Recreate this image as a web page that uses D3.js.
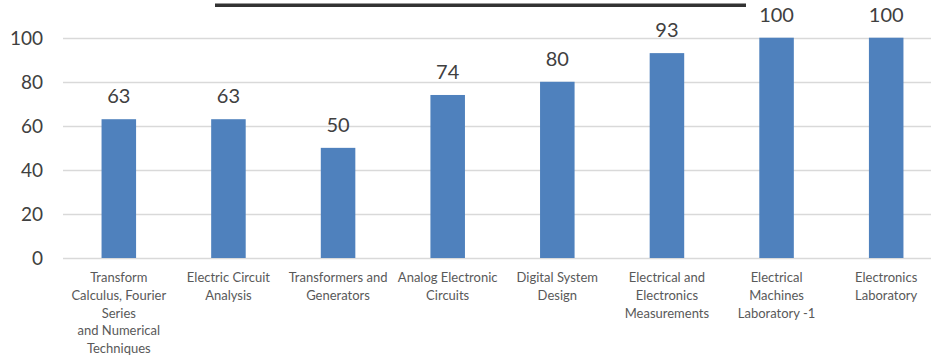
<!DOCTYPE html>
<html>
<head>
<meta charset="utf-8">
<script src="https://cdn.jsdelivr.net/npm/d3@7"></script>
<style>
  html, body { margin: 0; padding: 0; background: #fff; overflow: hidden; }
  svg { display: block; }
</style>
</head>
<body>
<svg id="chart" width="931" height="355"></svg>
<script>
const categories = [
  ["Transform", "Calculus, Fourier", "Series", "and Numerical", "Techniques"],
  ["Electric Circuit", "Analysis"],
  ["Transformers and", "Generators"],
  ["Analog Electronic", "Circuits"],
  ["Digital System", "Design"],
  ["Electrical and", "Electronics", "Measurements"],
  ["Electrical", "Machines", "Laboratory -1"],
  ["Electronics", "Laboratory"]
];
const values = [63, 63, 50, 74, 80, 93, 100, 100];
const yTicks = [0, 20, 40, 60, 80, 100];

(function () {
const svg = d3.select("#chart");
const W = 931;
const plotLeft = 64, plotRight = 941, plotTop = 37.7, plotBottom = 258;

const x = d3.scaleBand()
  .domain(d3.range(values.length))
  .range([plotLeft, plotRight])
  .paddingInner(0.685)
  .paddingOuter(0.3425);
const y = d3.scaleLinear().domain([0, 100]).range([plotBottom, plotTop]);

// top title underline (title itself clipped above the frame)
svg.append("line")
  .attr("x1", 215).attr("x2", 746)
  .attr("y1", 5.3).attr("y2", 5.3)
  .attr("stroke", "#333").attr("stroke-width", 3.6);

// gridlines
svg.append("g").selectAll("line").data(yTicks).join("line")
  .attr("x1", 63).attr("x2", W)
  .attr("y1", d => Math.round(y(d)) + 0.5)
  .attr("y2", d => Math.round(y(d)) + 0.5)
  .attr("stroke", "#d9d9d9").attr("stroke-width", 1.6);

// y axis labels
const yAxis = d3.axisLeft(y).tickValues(yTicks).tickSize(0).tickPadding(0);
const yg = svg.append("g").attr("transform", "translate(43,0)").call(yAxis);
yg.select(".domain").remove();
yg.selectAll("text")
  .attr("font-family", "Lato, sans-serif")
  .attr("font-size", "19px")
  .attr("fill", "#404040")
  .attr("dy", "0.36em");

// bars
svg.append("g").selectAll("rect").data(values).join("rect")
  .attr("x", (d, i) => x(i))
  .attr("width", x.bandwidth())
  .attr("y", d => y(d))
  .attr("height", d => y(0) - y(d))
  .attr("fill", "#4f81bd");

// value labels
svg.append("g").selectAll("text").data(values).join("text")
  .attr("x", (d, i) => x(i) + x.bandwidth() / 2)
  .attr("y", d => y(d) - 16)
  .attr("text-anchor", "middle")
  .attr("font-family", "Lato, sans-serif")
  .attr("font-size", "20px")
  .attr("fill", "#404040")
  .text(d => d);

// category labels
const cg = svg.append("g");
categories.forEach((lines, i) => {
  const t = cg.append("text")
    .attr("x", x(i) + x.bandwidth() / 2)
    .attr("y", 282)
    .attr("text-anchor", "middle")
    .attr("font-family", "Lato, sans-serif")
    .attr("font-size", "13px")
    .attr("fill", "#595959");
  lines.forEach((ln, j) => {
    t.append("tspan")
      .attr("x", x(i) + x.bandwidth() / 2)
      .attr("dy", j === 0 ? 0 : 17.8)
      .text(ln);
  });
});
})();
</script>
</body>
</html>
